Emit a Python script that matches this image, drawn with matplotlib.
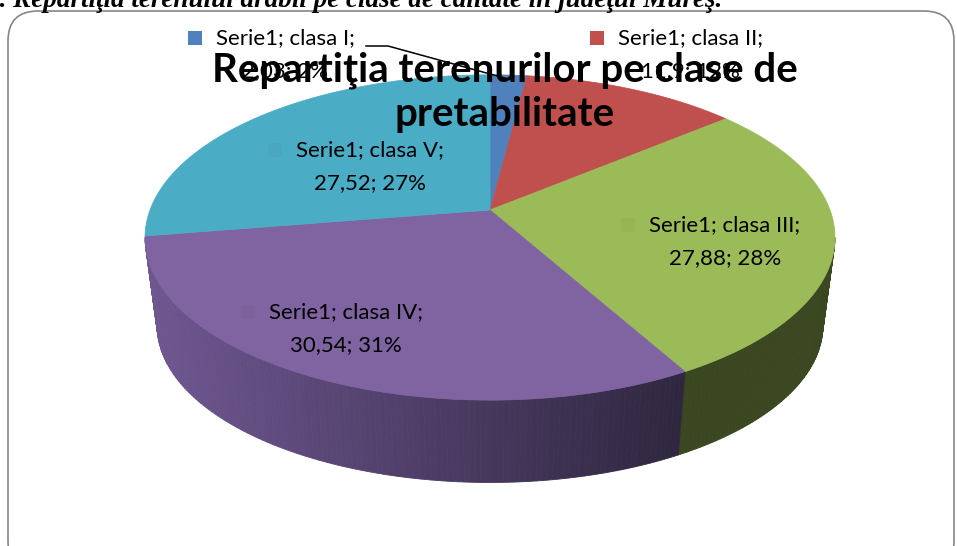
import numpy as np
import matplotlib.pyplot as plt
from matplotlib.patches import Polygon, FancyBboxPatch
from matplotlib.colors import to_rgb

# data
classes = ['clasa I', 'clasa II', 'clasa III', 'clasa IV', 'clasa V']
values = [2.03, 11.9, 27.88, 30.54, 27.52]
value_labels = ['2,03', '11,9', '27,88', '30,54', '27,52']
percents = ['2%', '12%', '28%', '31%', '27%']
series_name = 'Serie1'
title = 'Repartiţia terenurilor pe clase de\npretabilitate'
caption = '1. Repartiţia terenului arabil pe clase de calitate în judeţul Mureş.'

top_colors = ['#4F81BD', '#C0504D', '#9BBB59', '#8064A2', '#4BACC6']
side_light = ['#3A6090', '#8E3A38', '#414F25', '#6E5690', '#3A8798']
side_dark = ['#2A4670', '#6A2B2A', '#3B4721', '#2E263E', '#2C6878']

W, H = 957, 546
cx, cy = 490, 210
A, B, k = 158, 340, 0.169     # perspective ellipse (vertical, horizontal, tilt)
shrink, drop = 0.965, 89      # bottom face

fig = plt.figure(figsize=(W / 100, H / 100), dpi=100)
ax = fig.add_axes([0, 0, 1, 1])
ax.set_xlim(0, W)
ax.set_ylim(H, 0)
ax.axis('off')


def pt(theta, bottom=False):
    u, v = np.sin(theta), -np.cos(theta)
    s = shrink if bottom else 1.0
    x = cx + s * B * u / (1 - k * v)
    y = cy + s * A * v / (1 - k * v) + (drop if bottom else 0)
    return x, y


# chart border
ax.add_patch(FancyBboxPatch((8, 11), 946, 560, boxstyle='round,pad=0,rounding_size=30',
                            fc='white', ec='#868686', lw=1.2, zorder=0))

total = sum(values)
bounds = np.concatenate([[0], np.cumsum(values)]) / total * 2 * np.pi
vis_lo = np.pi / 2 + np.arcsin(k)
vis_hi = 3 * np.pi / 2 - np.arcsin(k)

# side walls (front part only)
for i in range(len(values)):
    a = max(bounds[i], vis_lo)
    b = min(bounds[i + 1], vis_hi)
    if b <= a:
        continue
    n = max(int((b - a) / np.radians(0.8)), 2)
    ts = np.linspace(a, b, n + 1)
    c1 = np.array(to_rgb(side_light[i]))
    c2 = np.array(to_rgb(side_dark[i]))
    for t0, t1 in zip(ts[:-1], ts[1:]):
        xm = pt((t0 + t1) / 2)[0]
        f = np.clip((xm - 150) / 540, 0, 1)
        col = c1 * (1 - f) + c2 * f
        tt = np.linspace(t0, t1, 4)
        top = [pt(t) for t in tt]
        bot = [pt(t, True) for t in tt[::-1]]
        ax.add_patch(Polygon(top + bot, closed=True, fc=col, ec=col, lw=0.6, zorder=1))

# top face
for i in range(len(values)):
    ts = np.linspace(bounds[i], bounds[i + 1], 200)
    verts = [(cx, cy)] + [pt(t) for t in ts]
    ax.add_patch(Polygon(verts, closed=True, fc=top_colors[i], ec=top_colors[i],
                         lw=0.5, zorder=2))

# data labels
lab_font = dict(family=['Lato', 'DejaVu Sans'], fontsize=16, color='black')
label_pos = [(285, 38), (690, 38), (725, 225), (346, 312), (370, 150)]
key_on_pie = [False, False, True, True, True]
fig.canvas.draw()
for i, (lx, ly) in enumerate(label_pos):
    line1 = f'{series_name}; {classes[i]};'
    line2 = f'{value_labels[i]}; {percents[i]}'
    t = ax.text(lx, ly, line1, ha='center', va='center', zorder=5, **lab_font)
    ax.text(lx, ly + 33, line2, ha='center', va='center', zorder=5, **lab_font)
    bb = t.get_window_extent(renderer=fig.canvas.get_renderer())
    kx = bb.x0 - 28
    if key_on_pie[i]:
        kc = np.array(to_rgb(top_colors[i])) * 0.97
        ax.add_patch(plt.Rectangle((kx, ly - 7), 14, 14, fc=kc, ec='none', zorder=3))
    else:
        ax.add_patch(plt.Rectangle((kx, ly - 7), 14, 14, fc=top_colors[i], ec='none', zorder=5))

# leader line for clasa I
ax.plot([366, 388, 512], [46, 46, 80], color='black', lw=1.1, zorder=4)

# chart title
ax.text(505, 92, title, ha='center', va='center', fontsize=29, fontweight='bold',
        family=['Lato', 'DejaVu Sans'], linespacing=1.22, zorder=6)

# caption above the chart (cut off at the top)
ax.text(722, 7, caption, ha='right', va='baseline', fontsize=19.5, fontweight='bold',
        fontstyle='italic', family=['Liberation Serif', 'DejaVu Serif'], zorder=6)

fig.savefig('out.png', dpi=100)
